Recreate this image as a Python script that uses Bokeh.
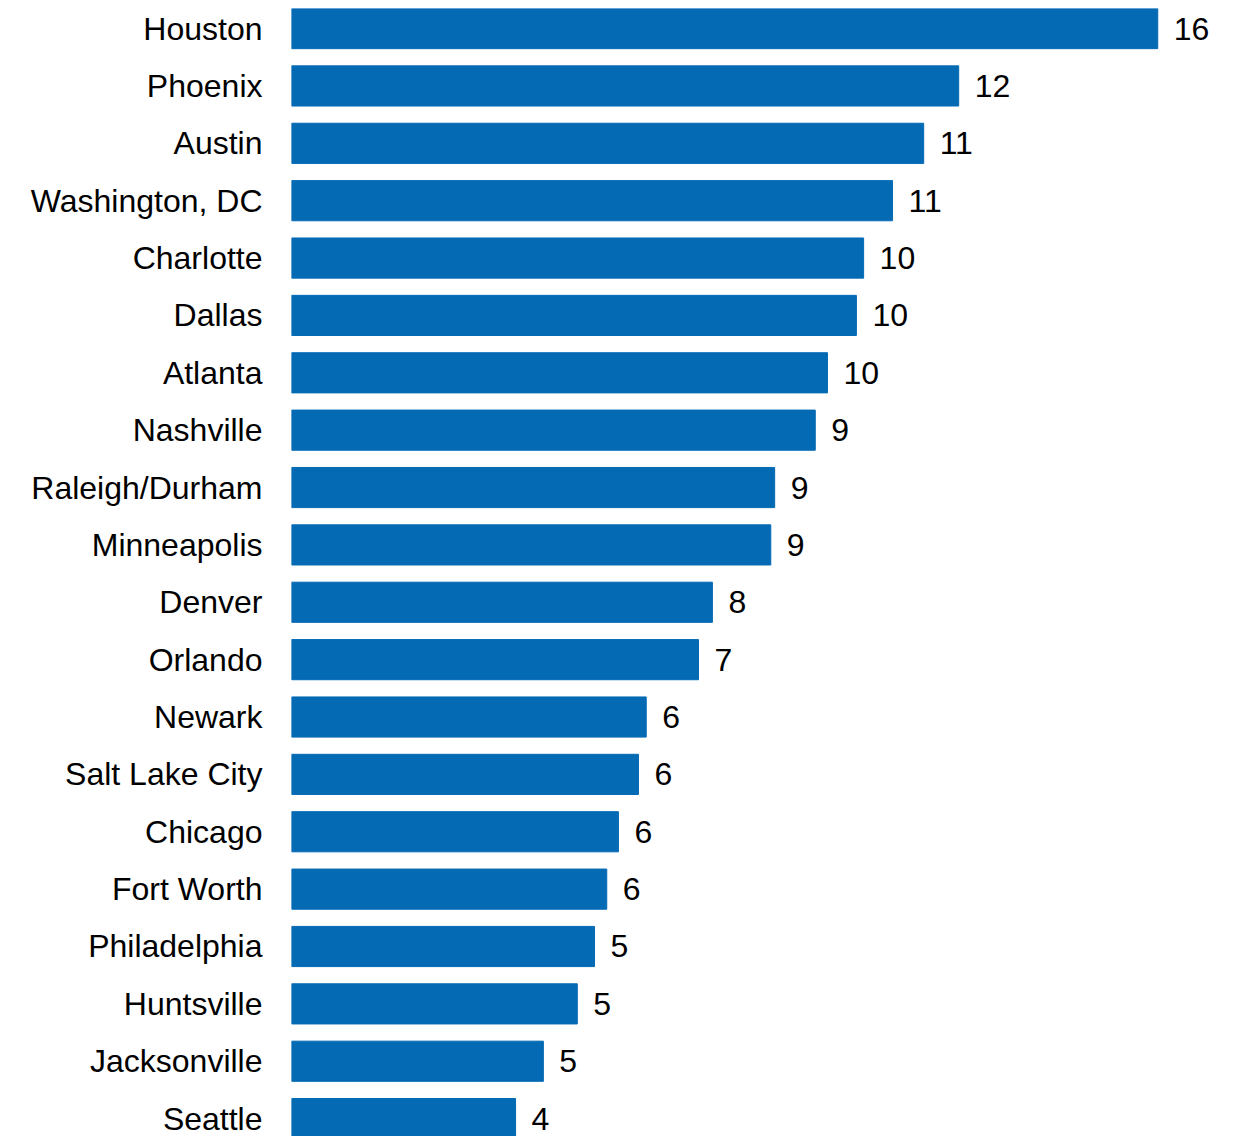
from bokeh.plotting import figure
from bokeh.models import ColumnDataSource, Range1d, FixedTicker, LabelSet
from bokeh.core.properties import value
from bokeh.embed import file_html
from bokeh.resources import INLINE

cities = ["Houston", "Phoenix", "Austin", "Washington, DC", "Charlotte", "Dallas",
          "Atlanta", "Nashville", "Raleigh/Durham", "Minneapolis", "Denver", "Orlando",
          "Newark", "Salt Lake City", "Chicago", "Fort Worth", "Philadelphia",
          "Huntsville", "Jacksonville", "Seattle"]
values = [15.58, 12.0, 11.37, 10.81, 10.29, 10.16, 9.64, 9.42, 8.69, 8.62,
          7.57, 7.32, 6.38, 6.24, 5.88, 5.67, 5.45, 5.14, 4.53, 4.03]
value_labels = ["16", "12", "11", "11", "10", "10", "10", "9", "9", "9",
                "8", "7", "6", "6", "6", "6", "5", "5", "5", "4"]

ypos = [-i for i in range(len(cities))]
src = ColumnDataSource(dict(y=ypos, v=values, lab=value_labels, city=cities))

W, H = 1227, 1136
LEFT, TOP = 291, 8
p = figure(width=W, height=H, output_backend="svg", toolbar_location=None,
           x_range=Range1d(0, (W - LEFT) / 55.6),
           y_range=Range1d(0.35 - (H - TOP) / 57.37, 0.35),
           min_border_left=LEFT, min_border_right=0, min_border_top=TOP, min_border_bottom=0)
p.hbar(y="y", right="v", left=0, height=0.7, source=src, color="#046AB4")

labels = LabelSet(x="v", y="y", text="lab", source=src, x_offset=16, y_offset=0,
                  text_baseline="middle", text_align="left",
                  text_font=value("Liberation Sans"),
                  text_font_size=value("32px"), text_color="#000000")
p.add_layout(labels)

p.xaxis.visible = False
p.yaxis.ticker = FixedTicker(ticks=ypos)
p.yaxis.major_label_overrides = {y: c for y, c in zip(ypos, cities)}
p.yaxis.major_label_text_font = "Liberation Sans"
p.yaxis.major_label_text_font_size = "32px"
p.yaxis.major_label_text_color = "#000000"
p.yaxis.major_label_standoff = 23
p.yaxis.major_tick_line_color = None
p.yaxis.minor_tick_line_color = None
p.yaxis.axis_line_color = None
p.xgrid.visible = False
p.ygrid.visible = False
p.outline_line_color = None

open("out.html", "w").write(file_html(p, INLINE))
